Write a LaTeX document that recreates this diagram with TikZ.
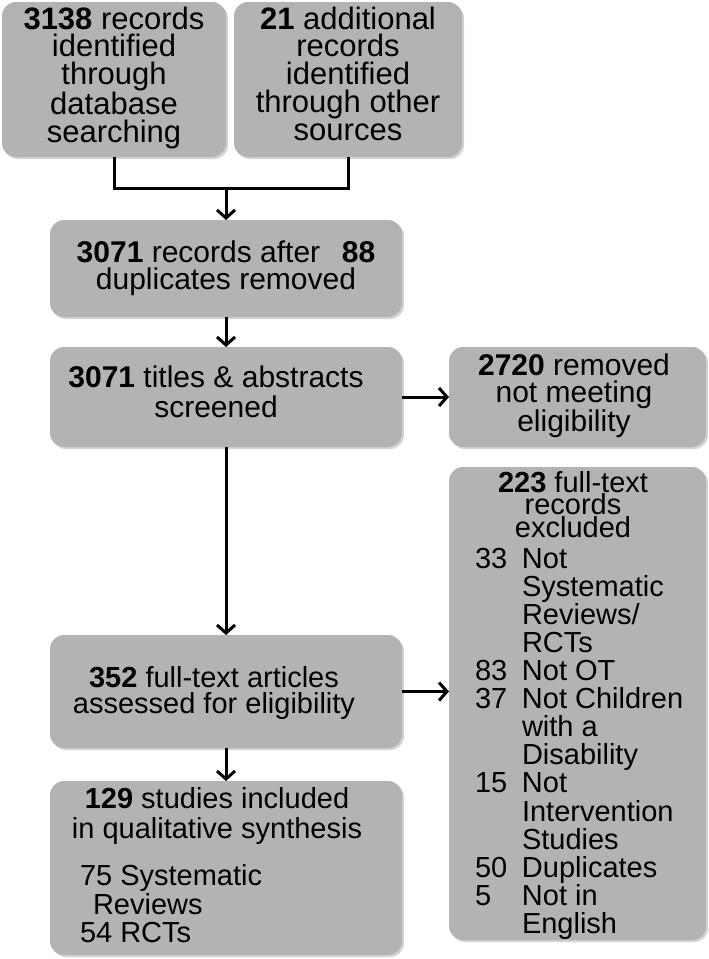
\documentclass[tikz,border=0pt]{standalone}
\usepackage{fontspec}
\setmainfont{Liberation Sans}
\usetikzlibrary{arrows.meta,shadows}
\definecolor{boxgray}{RGB}{179,179,179}
\tikzset{
  box/.style={fill=boxgray, draw=none, rounded corners=14pt, inner sep=0pt, outer sep=0pt, anchor=north west,
    drop shadow={opacity=0.35, shadow xshift=2pt, shadow yshift=-2pt}},
  conn/.style={line width=3pt, black},
  arr/.style={conn, -{Straight Barb[length=8pt,width=18pt]}},
}
\newcommand{\bigtxt}{\fontsize{31}{27.75}\selectfont}
\newcommand{\ctr}[1]{\centering\rightskip=#1 plus 1fil\relax}
\begin{document}
\begin{tikzpicture}[x=1pt,y=-1pt]
\useasboundingbox (0,0) rectangle (709,959);
% boxes
\node[box] (b1) at (2,2) {\parbox[c][155pt][t]{224pt}{\centering\bigtxt
  \rule{0pt}{27pt}\textbf{3138} records\\identified\\through\\database\\searching\par}};
\node[box] (b2) at (234,2) {\parbox[c][155pt][t]{228pt}{\centering\bigtxt
  \rule{0pt}{27pt}\textbf{21} additional\\records\\identified\\through other\\sources\par}};
\node[box] (b3) at (50,220) {\parbox[c][97pt][t]{352pt}{\centering\fontsize{30}{27}\selectfont
  \rule{0pt}{42pt}\textbf{3071} records after \,\ \textbf{88}\\duplicates removed\par}};
\node[box] (b4) at (50,347) {\parbox[c][100pt][t]{352pt}{\ctr{20pt}\fontsize{30}{30}\selectfont
  \rule{0pt}{40pt}\textbf{3071} titles \& abstracts\\screened\par}};
\node[box] (b5) at (449,347) {\parbox[c][100pt][t]{257pt}{\ctr{7pt}\fontsize{30}{27.5}\selectfont
  \rule{0pt}{28pt}\textbf{2720} removed\\not meeting\\eligibility\par}};
\node[box] (b6) at (50,635) {\parbox[c][113pt][t]{352pt}{\ctr{24pt}\fontsize{29}{26}\selectfont
  \rule{0pt}{52pt}\textbf{352} full-text articles\\assessed for eligibility\par}};
\node[box] (b7) at (50,781) {\parbox[c][174pt][t]{352pt}{%
  {\ctr{18pt}\fontsize{29}{30}\selectfont
  \rule{0pt}{27pt}\textbf{129} studies included\\in qualitative synthesis\par}
  \vspace{19pt}
  {\raggedright\leftskip=30pt\fontsize{29}{28.5}\selectfont
  75 Systematic\\\hspace*{13pt}Reviews\\54 RCTs\par}}};
\node[box] (b8) at (449,467) {\parbox[c][473pt][t]{257pt}{%
  {\ctr{9pt}\fontsize{29}{22.5}\selectfont
  \rule{0pt}{25pt}\textbf{223} full-text\\records\\excluded\par}
  \vspace{3pt}
  {\raggedright\leftskip=26pt\fontsize{29}{28.1}\selectfont
  \makebox[47pt][l]{33}Not\\\hspace*{47pt}Systematic\\\hspace*{47pt}Reviews/\\\hspace*{47pt}RCTs\\
  \makebox[47pt][l]{83}Not OT\\
  \makebox[47pt][l]{37}Not Children\\\hspace*{47pt}with a\\\hspace*{47pt}Disability\\
  \makebox[47pt][l]{15}Not\\\hspace*{47pt}Intervention\\\hspace*{47pt}Studies\\
  \makebox[47pt][l]{50}Duplicates\\
  \makebox[47pt][l]{5}Not in\\\hspace*{47pt}English\par}}};
% connectors
\coordinate (j) at (226,188);
\draw[conn] (b1.south) -- (b1.south |- j) -- (b2.south |- j) -- (b2.south);
\draw[arr] (j) -- (b3.north);
\draw[arr] (b3.south) -- (b4.north);
\draw[arr] (b4.east) -- (b5.west);
\draw[arr] (b4.south) -- (b6.north);
\draw[arr] (b6.east) -- (b6.east -| b8.west);
\draw[arr] (b6.south) -- (b7.north);
\end{tikzpicture}
\end{document}
